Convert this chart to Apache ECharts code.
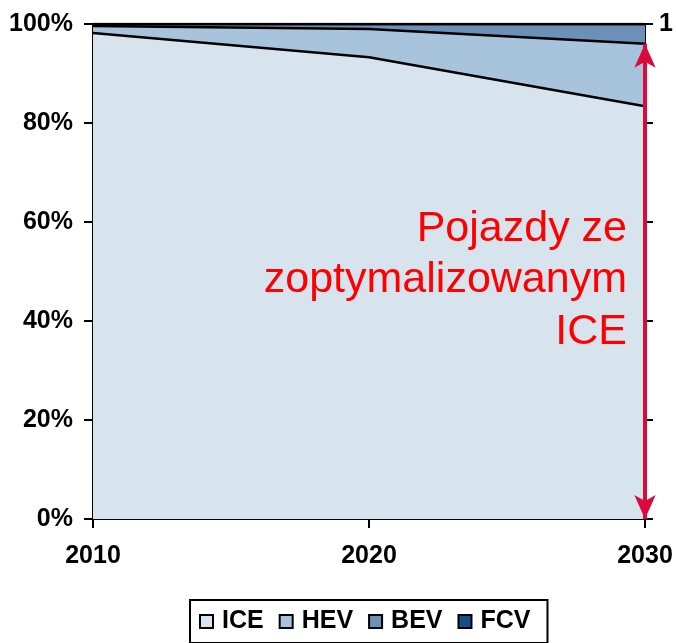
<!DOCTYPE html>
<html><head><meta charset="utf-8">
<script src="https://cdn.jsdelivr.net/npm/echarts@6/dist/echarts.min.js"></script>
<style>html,body{margin:0;padding:0;background:#fff}#c{width:676px;height:643px}</style>
</head><body><div id="c"></div>
<script>
const years = ['2010', '2020', '2030'];
const ice = [0.982, 0.933, 0.834];
const hev = [0.014, 0.057, 0.126];
const bev = [0.004, 0.010, 0.040];
const fcv = [0.000, 0.000, 0.000];
const yTicks = [0, 0.2, 0.4, 0.6, 0.8, 1];
const arrowYear = '2030';
const arrowRange = [0.96, 0];
const noteLines = ['Pojazdy ze', 'zoptymalizowanym', 'ICE'];

const colors = {ICE: '#D7E3ED', HEV: '#A8C4DD', BEV: '#6C91B8', FCV: '#15508A'};
const chart = echarts.init(document.getElementById('c'), null, {renderer: 'canvas'});
const lbl = {fontFamily: 'Liberation Sans, Arial', fontWeight: 'bold', fontSize: 25, color: '#000'};
function mk(name, data) {
  return {
    name, type: 'line', stack: 'all', data, symbol: 'none', smooth: false,
    lineStyle: {color: '#000', width: 2.5},
    areaStyle: {color: colors[name], opacity: 1},
    itemStyle: {color: colors[name], borderColor: '#000', borderWidth: 1},
    z: 2
  };
}
const series = [mk('ICE', ice), mk('HEV', hev), mk('BEV', bev), mk('FCV', fcv)];
series[0].markLine = {
  silent: true,
  symbol: ['arrow', 'arrow'],
  symbolSize: [16, 24],
  label: {show: false},
  lineStyle: {color: '#DA0A3E', width: 4, type: 'solid'},
  data: [[{coord: [arrowYear, arrowRange[0]]}, {coord: [arrowYear, arrowRange[1]]}]],
  z: 10
};
chart.setOption({
  animation: false,
  grid: {left: 93, right: 31, top: 24, bottom: 124, containLabel: false},
  legend: {
    data: ['ICE', 'HEV', 'BEV', 'FCV'],
    bottom: 0, left: 190,
    borderColor: '#000', borderWidth: 2, padding: [9, 17, 9, 9],
    itemWidth: 13, itemHeight: 13, itemGap: 15,
    icon: 'rect',
    textStyle: {fontFamily: 'Liberation Sans, Arial', fontWeight: 'bold', fontSize: 25, color: '#000', padding: [0, 0, 0, 4]}
  },
  xAxis: {
    type: 'category', data: years, boundaryGap: false,
    axisLine: {lineStyle: {color: '#000', width: 2}},
    axisTick: {show: true, length: 9, lineStyle: {color: '#000', width: 2}},
    axisLabel: Object.assign({margin: 25}, lbl),
    splitLine: {show: false}
  },
  yAxis: [{
    type: 'value', min: 0, max: 1, interval: 0.2, position: 'left',
    axisLine: {show: true, lineStyle: {color: '#000', width: 2}},
    axisTick: {show: true, length: 9, lineStyle: {color: '#000', width: 2}},
    axisLabel: Object.assign({margin: 20, formatter: v => Math.round(v * 100) + '%'}, lbl),
    splitLine: {show: false}
  }, {
    type: 'value', min: 0, max: 1, interval: 0.2, position: 'right',
    axisLine: {show: true, lineStyle: {color: '#000', width: 2}},
    axisTick: {show: true, length: 8, lineStyle: {color: '#000', width: 2}},
    axisLabel: Object.assign({margin: 14, formatter: v => v === 1 ? '1' : ''}, lbl),
    splitLine: {show: false}
  }, {
    type: 'value', min: 0, max: 1, interval: 0.2, position: 'right',
    axisLine: {show: false},
    axisTick: {show: true, inside: true, length: 8, lineStyle: {color: '#000', width: 2}},
    axisLabel: {show: false},
    splitLine: {show: false}
  }],
  series,
  graphic: noteLines.map((t, i) => ({
    type: 'text', x: 627, y: 229 + i * 51.5, z: 20,
    style: {text: t, fill: '#FF0000', font: '43px "Liberation Sans", Arial', align: 'right', verticalAlign: 'middle'}
  }))
});
</script></body></html>
